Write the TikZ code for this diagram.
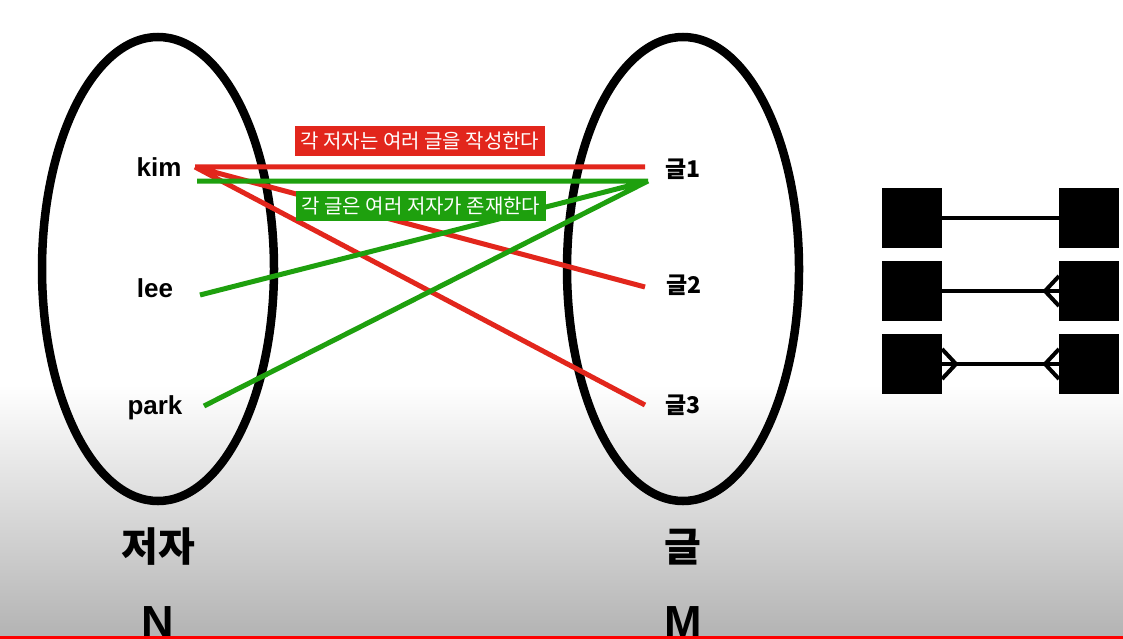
\documentclass[tikz,border=0pt]{standalone}
\usepackage{fontspec}
\setmainfont{Liberation Sans}
\newfontfamily\kr{Noto Sans CJK KR}
\usetikzlibrary{shapes.geometric}
\usetikzlibrary{positioning}

\definecolor{relred}{RGB}{226,38,28}
\definecolor{relgreen}{RGB}{30,160,14}

\begin{document}
\begin{tikzpicture}[x=1pt, y=-1pt,
  set/.style={ellipse, draw, line width=8.5pt, minimum width=232pt, minimum height=464pt, inner sep=0pt},
  elem/.style={font=\fontsize{26}{26}\selectfont\bfseries, anchor=base},
  post/.style={font=\kr\fontsize{23}{23}\selectfont\bfseries},
  title/.style={font=\kr\fontsize{40}{40}\selectfont\bfseries},
  card/.style={font=\fontsize{45}{45}\selectfont\bfseries, anchor=base},
  tag/.style={font=\kr\fontsize{20}{20}\selectfont, text=white, minimum height=30pt, minimum width=250pt, inner xsep=4pt},
  red line/.style={draw=relred, line width=5pt},
  green line/.style={draw=relgreen, line width=5pt},
  erbox/.style={fill=black, minimum size=60pt, inner sep=0pt, outer sep=0pt},
  erline/.style={line width=4pt}]

  \useasboundingbox (0,0) rectangle (1123,639);
  \fill[white] (0,0) rectangle (1123,385);
  \shade[top color=white, bottom color=black!30] (0,385) rectangle (1123,639);

  % the two sets
  \node[set] (authors) at (158,269) {};
  \node[set] (posts) at (683,269) {};

  \node[elem] (kim) at (159,177) {kim};
  \node[elem] (lee) at (155,297) {lee};
  \node[elem] (park) at (155,414) {park};

  \node[post] (g1) at (683,169) {글1};
  \node[post] (g2) at (684,285) {글2};
  \node[post] (g3) at (683,405) {글3};

  \node[title] (authors-name) at (158,547) {저자};
  \node[title] (posts-name) at (683,547) {글};
  \node[card] (n) at (158,637) {N};
  \node[card] (m) at (683,637) {M};

  % line ends beside the labels
  \coordinate (kim-r) at (195,167);
  \coordinate (kim-g) at (197,181);
  \coordinate (lee-g) at (200,295);
  \coordinate (park-g) at (204,406);
  \coordinate (g1-r) at (645,167);
  \coordinate (g2-r) at (645,287);
  \coordinate (g3-r) at (645,405);
  \coordinate (g1-g) at (648,181);

  \path[red line]
  (kim-r) -- (g1-r)
  (kim-r) -- (g2-r)
  (kim-r) -- (g3-r);

  \path[green line]
  (kim-g) -- (g1-g)
  (lee-g) -- (g1-g)
  (park-g) -- (g1-g);

  \node[tag, fill=relred] (one-to-many) at (420,141) {각 저자는 여러 글을 작성한다};
  \node[tag, fill=relgreen] (many-to-one) at (421,206) {각 글은 여러 저자가 존재한다};

  % crow's foot notation
  \node[erbox] (e1) at (912,218) {};
  \node[erbox, right=117pt of e1] (f1) {};
  \node[erbox, below=13pt of e1] (e2) {};
  \node[erbox, right=117pt of e2] (f2) {};
  \node[erbox, below=13pt of e2] (e3) {};
  \node[erbox, right=117pt of e3] (f3) {};

  \draw[erline] (e1) -- (f1);
  \draw[erline] (e2) -- (f2);
  \draw[erline] (e3) -- (f3);
  \draw[erline] ([yshift=15pt]f2.west) -- ([xshift=-14pt]f2.west) -- ([yshift=-15pt]f2.west);
  \draw[erline] ([yshift=15pt]f3.west) -- ([xshift=-14pt]f3.west) -- ([yshift=-15pt]f3.west);
  \draw[erline] ([yshift=15pt]e3.east) -- ([xshift=14pt]e3.east) -- ([yshift=-15pt]e3.east);

  \fill[red] (0,636) rectangle (1123,639);
\end{tikzpicture}
\end{document}
